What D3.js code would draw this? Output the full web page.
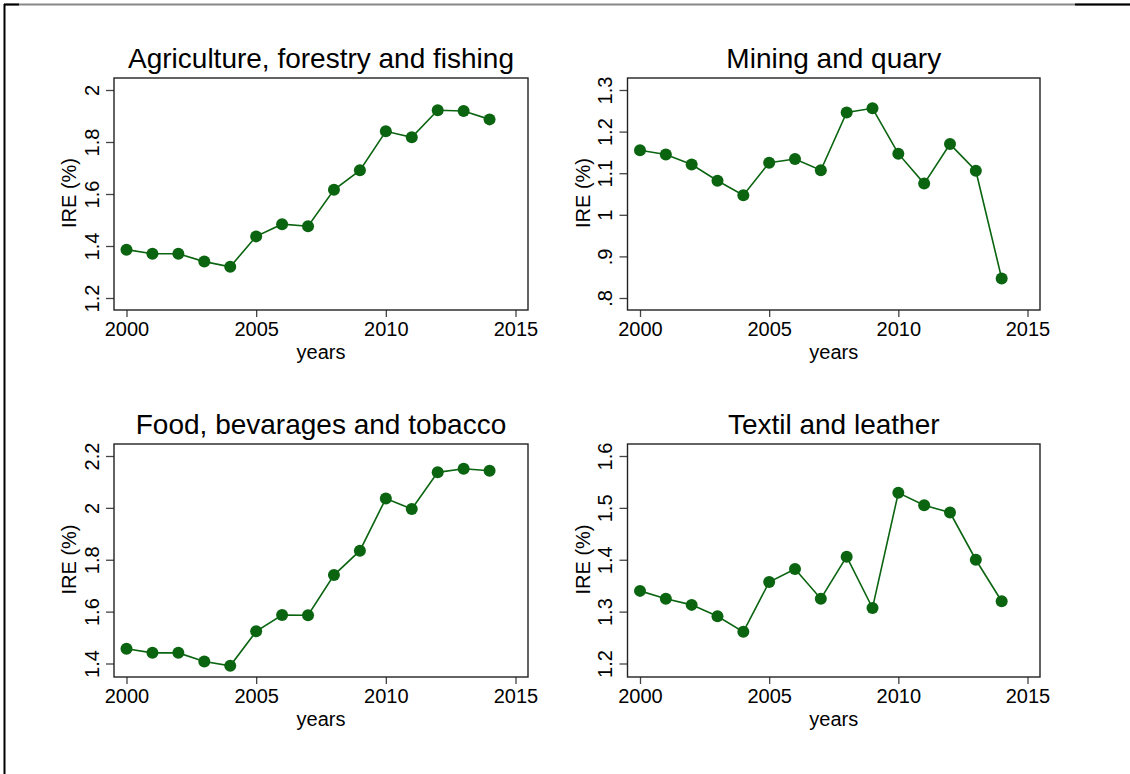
<!DOCTYPE html>
<html>
<head>
<meta charset="utf-8">
<script src="https://cdn.jsdelivr.net/npm/d3@7"></script>
<style>
  body { margin: 0; background: #fff; }
  svg { display: block; font-family: "Liberation Sans", Arial, sans-serif; }
  .domain { display: none; }
</style>
</head>
<body>
<svg width="1130" height="774"></svg>
<script>
// data
var years = [2000, 2001, 2002, 2003, 2004, 2005, 2006, 2007, 2008, 2009, 2010, 2011, 2012, 2013, 2014];
var agriculture = [1.386, 1.370, 1.370, 1.340, 1.320, 1.437, 1.484, 1.476, 1.616, 1.691, 1.841, 1.818, 1.922, 1.919, 1.887];
var mining = [1.155, 1.145, 1.121, 1.082, 1.047, 1.125, 1.134, 1.107, 1.246, 1.256, 1.147, 1.075, 1.170, 1.106, 0.847];
var food = [1.457, 1.441, 1.441, 1.408, 1.391, 1.524, 1.587, 1.586, 1.741, 1.835, 2.036, 1.996, 2.137, 2.151, 2.143];
var textile = [1.340, 1.325, 1.313, 1.291, 1.261, 1.357, 1.382, 1.325, 1.406, 1.307, 1.529, 1.505, 1.491, 1.400, 1.320];

var xTicks = [2000, 2005, 2010, 2015];
var agriTicks = [1.2, 1.4, 1.6, 1.8, 2];
var miningTicks = [0.8, 0.9, 1, 1.1, 1.2, 1.3];
var foodTicks = [1.4, 1.6, 1.8, 2, 2.2];
var textileTicks = [1.2, 1.3, 1.4, 1.5, 1.6];

var titles = ["Agriculture, forestry and fishing", "Mining and quary", "Food, bevarages and tobacco", "Textil and leather"];

function main() {
    var svg = d3.select("svg");
    var green = "#0a6410";

    // outer frame
    svg.append("line").attr("x1", 4).attr("x2", 1130).attr("y1", 4.5).attr("y2", 4.5)
       .attr("stroke", "#888").attr("stroke-width", 2);
    svg.append("line").attr("x1", 4).attr("x2", 19).attr("y1", 4.5).attr("y2", 4.5)
       .attr("stroke", "#000").attr("stroke-width", 2);
    svg.append("line").attr("x1", 1075).attr("x2", 1130).attr("y1", 4.5).attr("y2", 4.5)
       .attr("stroke", "#000").attr("stroke-width", 2);
    svg.append("line").attr("x1", 4.5).attr("x2", 4.5).attr("y1", 4).attr("y2", 774)
       .attr("stroke", "#000").attr("stroke-width", 2);

    var cols = [[114, 528], [627.5, 1040]];
    var rows = [[78, 310, 12, 12], [444, 677, 12, 13.5]];

    var panels = [
        { title: titles[0], values: agriculture, ticks: agriTicks, col: 0, row: 0 },
        { title: titles[1], values: mining, ticks: miningTicks, col: 1, row: 0 },
        { title: titles[2], values: food, ticks: foodTicks, col: 0, row: 1 },
        { title: titles[3], values: textile, ticks: textileTicks, col: 1, row: 1 }
    ];

    function fmt(d) {
        return String(+d.toFixed(1)).replace(/^0\./, ".");
    }

    panels.forEach(function(p) {
        var left = cols[p.col][0], right = cols[p.col][1];
        var top = rows[p.row][0], bottom = rows[p.row][1];
        var w = right - left, h = bottom - top;

        var xScale = d3.scaleLinear().domain([2000, 2015]).range([12.5, w - 12.5]);
        var yScale = d3.scaleLinear().domain(d3.extent(p.ticks)).range([h - rows[p.row][3], rows[p.row][2]]);

        var g = svg.append("g").attr("transform", "translate(" + left + "," + top + ")");

        // title
        g.append("text")
         .attr("x", w / 2)
         .attr("y", -10)
         .attr("text-anchor", "middle")
         .attr("font-size", "28px")
         .attr("fill", "#000")
         .text(p.title);

        // x axis
        var xa = g.append("g")
         .attr("transform", "translate(0," + h + ")")
         .call(d3.axisBottom(xScale).tickValues(xTicks).tickFormat(d3.format("d")).tickSize(7).tickPadding(5));
        xa.selectAll(".tick line").attr("stroke", "#444").attr("stroke-width", 1.3);
        xa.selectAll(".tick text").attr("font-size", "20px").attr("fill", "#000")
          .attr("font-family", "Liberation Sans, Arial, sans-serif");

        g.append("text")
         .attr("x", w / 2)
         .attr("y", h + 49)
         .attr("text-anchor", "middle")
         .attr("font-size", "20px")
         .text("years");

        // y axis, rotated labels
        var ya = g.append("g")
         .call(d3.axisLeft(yScale).tickValues(p.ticks).tickFormat(fmt).tickSize(8));
        ya.selectAll(".tick line").attr("stroke", "#444").attr("stroke-width", 1.3);
        ya.selectAll(".tick text")
          .attr("transform", "rotate(-90)")
          .attr("x", 0)
          .attr("y", -15.5)
          .attr("dy", 0)
          .attr("text-anchor", "middle")
          .attr("font-size", "20px")
          .attr("fill", "#000")
          .attr("font-family", "Liberation Sans, Arial, sans-serif");

        g.append("text")
         .attr("transform", "translate(-38," + (h / 2 - 1) + ") rotate(-90)")
         .attr("text-anchor", "middle")
         .attr("font-size", "20px")
         .text("IRE (%)");

        // plot frame
        g.append("rect")
         .attr("width", w).attr("height", h)
         .attr("fill", "none")
         .attr("stroke", "#222")
         .attr("stroke-width", 1.4);

        var line = d3.line()
            .x(function(d, i) { return xScale(years[i]); })
            .y(function(d) { return yScale(d); });

        g.append("path")
         .datum(p.values)
         .attr("d", line)
         .attr("fill", "none")
         .attr("stroke", green)
         .attr("stroke-width", 1.6);

        g.selectAll(".pt")
         .data(p.values)
         .enter().append("circle")
         .attr("class", "pt")
         .attr("cx", function(d, i) { return xScale(years[i]); })
         .attr("cy", function(d) { return yScale(d); })
         .attr("r", 6)
         .attr("fill", green);
    });
}
main();
</script>
</body>
</html>
